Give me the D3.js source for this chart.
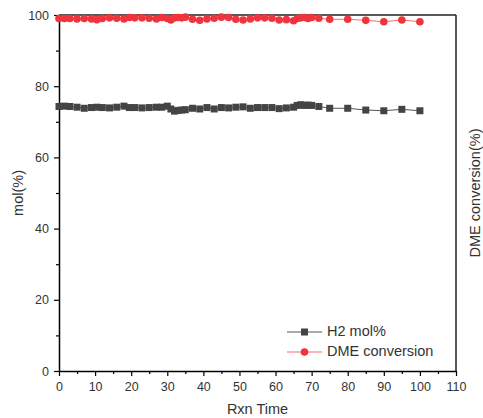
<!DOCTYPE html>
<html>
<script src="https://d3js.org/d3.v7.min.js"></script>

<head>
    <style>
        body {
            margin: 0;
            background-color: white;
            font-family: Arial, "Liberation Sans", sans-serif;
        }

        svg {
            display: block;
        }
    </style>
</head>

<body>
    <svg width="483" height="418"></svg>
</body>
<script>
    const width = 483,
        height = 418;
    const svg = d3.select("svg");

    // reaction time (x) for both series
    const TIME = [0, 1.5, 3, 5, 7, 9, 10.5, 12, 14, 16, 18, 19.5, 21, 23, 25, 27, 28.5, 30, 31, 32,
        33, 34, 35, 37, 39, 41, 43, 45, 47, 49, 51, 53, 55, 57, 59, 61, 63, 65, 66, 67,
        68, 69, 70, 72, 75, 80, 85, 90, 95, 100];
    const H2 = [74.3, 74.4, 74.3, 74.1, 73.8, 74.0, 74.1, 74.0, 73.9, 74.1, 74.4, 74.0, 74.0, 73.9, 74.0, 74.1, 74.1, 74.4, 73.6, 73.0,
        73.2, 73.3, 73.4, 73.8, 73.6, 74.0, 73.6, 74.0, 73.9, 74.1, 74.2, 73.8, 74.0, 74.0, 74.0, 73.7, 73.9, 74.1, 74.6, 74.8,
        74.6, 74.7, 74.6, 74.3, 73.8, 73.8, 73.3, 73.1, 73.5, 73.1];
    const DME = [99.0, 99.0, 99.0, 98.9, 99.0, 98.9, 98.7, 99.0, 99.2, 99.1, 98.9, 99.3, 99.2, 99.2, 99.1, 98.9, 99.3, 99.0, 98.6, 99.2,
        99.3, 99.2, 99.4, 98.8, 98.5, 98.9, 99.1, 99.4, 99.3, 98.8, 98.6, 98.9, 99.2, 99.2, 99.1, 98.6, 98.7, 98.4, 99.0, 99.2,
        99.3, 99.0, 99.3, 99.1, 98.8, 98.8, 98.5, 98.1, 98.6, 98.1];
    const X_TICKS = [0, 10, 20, 30, 40, 50, 60, 70, 80, 90, 100, 110];
    const Y_TICKS = [0, 20, 40, 60, 80, 100];

    const margin = { left: 59, right: 27, top: 15, bottom: 47 };
    const x = d3.scaleLinear().domain([0, 110]).range([margin.left, width - margin.right]);
    const y = d3.scaleLinear().domain([0, 100]).range([height - margin.bottom, margin.top]);

    const tickColor = "#222";
    const labelColor = "#333";

    function styleAxis(g) {
        g.select(".domain").attr("stroke", "black").attr("stroke-width", 1.5);
        g.selectAll(".tick line").attr("stroke", "black").attr("stroke-width", 1.2);
        g.selectAll(".tick text").attr("fill", labelColor).attr("font-size", 12.5)
            .attr("font-family", "Arial, 'Liberation Sans', sans-serif");
    }

    // minor ticks
    svg.append("g")
        .attr("transform", `translate(0,${y(0)})`)
        .call(d3.axisBottom(x).tickValues(d3.range(5, 110, 10)).tickSize(3).tickFormat(""))
        .call(g => g.select(".domain").remove())
        .call(g => g.selectAll("line").attr("stroke", "black").attr("stroke-width", 1.2));
    svg.append("g")
        .attr("transform", `translate(${x(0)},0)`)
        .call(d3.axisLeft(y).tickValues(d3.range(10, 100, 20)).tickSize(3).tickFormat(""))
        .call(g => g.select(".domain").remove())
        .call(g => g.selectAll("line").attr("stroke", "black").attr("stroke-width", 1.2));

    // frame (top and right)
    svg.append("line")
        .attr("x1", x(0)).attr("x2", x(110)).attr("y1", y(100)).attr("y2", y(100))
        .attr("stroke", tickColor).attr("stroke-width", 1.5);
    svg.append("line")
        .attr("x1", x(110)).attr("x2", x(110)).attr("y1", y(100)).attr("y2", y(0))
        .attr("stroke", tickColor).attr("stroke-width", 1.5);

    // main axes
    svg.append("g")
        .attr("transform", `translate(0,${y(0)})`)
        .call(d3.axisBottom(x).tickValues(X_TICKS).tickSize(5).tickSizeOuter(0).tickPadding(6))
        .call(styleAxis);
    svg.append("g")
        .attr("transform", `translate(${x(0)},0)`)
        .call(d3.axisLeft(y).tickValues(Y_TICKS).tickSize(5).tickSizeOuter(0).tickPadding(5))
        .call(styleAxis);

    // series
    const pts = TIME.map((t, i) => ({ t: t, h2: H2[i], dme: DME[i] }));
    const h2Color = "#444",
        dmeColor = "#f0343e";

    svg.append("path")
        .datum(pts)
        .attr("fill", "none")
        .attr("stroke", "#555")
        .attr("stroke-width", 1)
        .attr("d", d3.line().x(d => x(d.t)).y(d => y(d.h2)));
    svg.selectAll(".sq")
        .data(pts)
        .enter().append("rect")
        .attr("x", d => x(d.t) - 3.5)
        .attr("y", d => y(d.h2) - 3.5)
        .attr("width", 7)
        .attr("height", 7)
        .attr("fill", h2Color);

    svg.append("path")
        .datum(pts)
        .attr("fill", "none")
        .attr("stroke", "#f56b70")
        .attr("stroke-width", 1)
        .attr("d", d3.line().x(d => x(d.t)).y(d => y(d.dme)));
    svg.selectAll(".dot")
        .data(pts)
        .enter().append("circle")
        .attr("cx", d => x(d.t))
        .attr("cy", d => y(d.dme))
        .attr("r", 3.8)
        .attr("fill", dmeColor);

    // axis titles
    svg.append("text")
        .attr("x", (x(0) + x(110)) / 2)
        .attr("y", 414)
        .attr("text-anchor", "middle")
        .attr("font-size", 14.5)
        .attr("fill", labelColor)
        .text("Rxn Time");
    svg.append("text")
        .attr("transform", `translate(23,${(y(0) + y(100)) / 2}) rotate(-90)`)
        .attr("text-anchor", "middle")
        .attr("font-size", 14.5)
        .attr("fill", labelColor)
        .text("mol(%)");
    svg.append("text")
        .attr("transform", `translate(480,${(y(0) + y(100)) / 2}) rotate(-90)`)
        .attr("text-anchor", "middle")
        .attr("font-size", 14.5)
        .attr("fill", labelColor)
        .text("DME conversion(%)");

    // legend
    const legend = [
        { name: "H2 mol%", stroke: "#555", shape: "square", fill: h2Color, y: 332 },
        { name: "DME conversion", stroke: "#f56b70", shape: "circle", fill: dmeColor, y: 352 },
    ];
    legend.forEach(l => {
        svg.append("line")
            .attr("x1", 287).attr("x2", 322).attr("y1", l.y).attr("y2", l.y)
            .attr("stroke", l.stroke).attr("stroke-width", 1);
        if (l.shape == "square") {
            svg.append("rect")
                .attr("x", 301).attr("y", l.y - 3.5).attr("width", 7).attr("height", 7)
                .attr("fill", l.fill);
        } else {
            svg.append("circle")
                .attr("cx", 304.5).attr("cy", l.y).attr("r", 3.8)
                .attr("fill", l.fill);
        }
        svg.append("text")
            .attr("x", 327)
            .attr("y", l.y)
            .attr("dominant-baseline", "middle")
            .attr("font-size", 14.5)
            .attr("fill", labelColor)
            .text(l.name);
    });
</script>

</html>
